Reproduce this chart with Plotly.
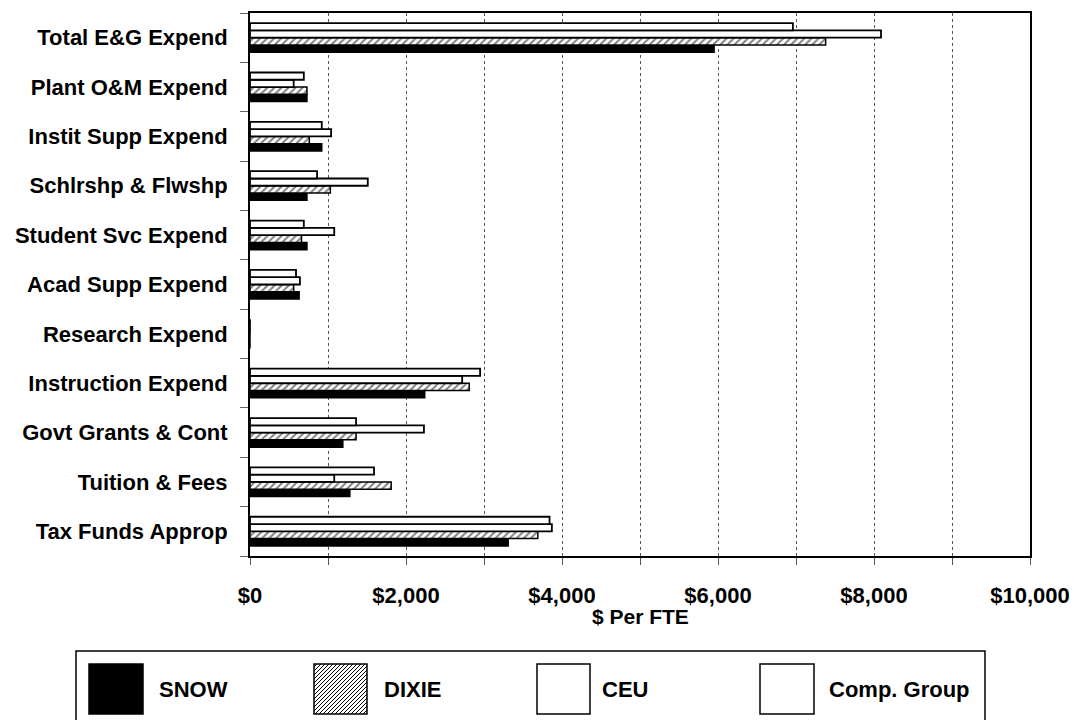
import plotly.graph_objects as go

categories = ["Total E&G Expend", "Plant O&M Expend", "Instit Supp Expend", "Schlrshp & Flwshp",
              "Student Svc Expend", "Acad Supp Expend", "Research Expend", "Instruction Expend",
              "Govt Grants & Cont", "Tuition & Fees", "Tax Funds Approp"]
snow = [5950, 730, 920, 730, 730, 630, 0, 2240, 1190, 1280, 3310]
dixie = [7380, 730, 760, 1030, 660, 560, 0, 2810, 1360, 1810, 3690]
ceu = [8090, 560, 1040, 1510, 1080, 640, 0, 2720, 2230, 1080, 3870]
comp = [6960, 690, 920, 860, 690, 590, 0, 2950, 1360, 1590, 3840]
series_names = ["SNOW", "DIXIE", "CEU", "Comp. Group"]
x_tick_values = [0, 1000, 2000, 3000, 4000, 5000, 6000, 7000, 8000, 9000, 10000]
x_tick_labels = ["$0", "", "$2,000", "", "$4,000", "", "$6,000", "", "$8,000", "", "$10,000"]
x_title = "$ Per FTE"

FONT = "Arial, Liberation Sans, sans-serif"
W, H = 1074, 720
# plot area in page pixels
L, R, T, B = 250, 1030, 13, 556

fig = go.Figure()
styles = [
    dict(color="black", line=dict(color="black", width=1.5)),
    dict(color="white", line=dict(color="black", width=1.5),
         pattern=dict(shape="/", fgcolor="black", bgcolor="white", size=5, solidity=0.4)),
    dict(color="white", line=dict(color="black", width=1.8)),
    dict(color="white", line=dict(color="black", width=1.8)),
]
for name, vals, st in zip(series_names, [snow, dixie, ceu, comp], styles):
    fig.add_trace(go.Bar(y=categories, x=vals, name=name, orientation="h",
                         marker=st, showlegend=False, hoverinfo="skip"))


def px_x(px):
    return (px - L) / (R - L)


def px_y(py):
    return (B - py) / (B - T)


shapes = []
# legend box
shapes.append(dict(type="rect", xref="paper", yref="paper",
                   x0=px_x(76), x1=px_x(985), y0=px_y(651), y1=px_y(730),
                   line=dict(color="black", width=1.5), fillcolor="rgba(0,0,0,0)"))
swatches = [(89, 143, "black"), (314, 367, "white"), (537, 590, "white"), (760, 814, "white")]
for (a, b, col) in swatches:
    shapes.append(dict(type="rect", xref="paper", yref="paper",
                       x0=px_x(a), x1=px_x(b), y0=px_y(664), y1=px_y(714),
                       line=dict(color="black", width=1.5), fillcolor=col))
# hatch in DIXIE swatch
x0, x1, y0, y1 = 314, 367, 664, 714
k = x0 + y0 + 3
while k < x1 + y1:
    xa = max(x0, k - y1)
    xb = min(x1, k - y0)
    if xb > xa:
        shapes.append(dict(type="line", xref="paper", yref="paper",
                           x0=px_x(xa), y0=px_y(k - xa), x1=px_x(xb), y1=px_y(k - xb),
                           line=dict(color="black", width=1)))
    k += 4

annotations = []
text_x = [157, 382, 600, 827]
for name, tx in zip(series_names, text_x):
    annotations.append(dict(text=name, xref="paper", yref="paper", x=px_x(tx), y=px_y(689),
                            xanchor="left", yanchor="middle", showarrow=False,
                            font=dict(family=FONT, size=22, color="black", weight="bold")))
# x-axis title
annotations.append(dict(text=x_title, xref="paper", yref="paper", x=0.5, y=px_y(616),
                        xanchor="center", yanchor="middle", showarrow=False,
                        font=dict(family=FONT, size=21, color="black", weight="bold")))

fig.update_layout(
    width=W, height=H, autosize=False,
    margin=dict(l=L, r=W - R, t=T, b=H - B, pad=0),
    paper_bgcolor="white", plot_bgcolor="white",
    barmode="group", bargap=0.41, bargroupgap=0,
    font=dict(family=FONT, size=22, color="black", weight="bold"),
    shapes=shapes, annotations=annotations,
    showlegend=False,
)
fig.update_xaxes(range=[0, 10000], tickvals=x_tick_values, ticktext=x_tick_labels,
                 automargin=False,
                 ticks="outside", ticklen=7, tickcolor="#555", tickwidth=1,
                 showgrid=True, gridcolor="#555", griddash="dot", gridwidth=1,
                 showline=True, linecolor="black", linewidth=2, mirror=True, zeroline=False,
                 tickfont=dict(size=22, weight="bold"), ticklabelstandoff=12)
fig.update_yaxes(type="category", categoryorder="array", categoryarray=categories[::-1],
                 automargin=False,
                 ticks="outside", tickson="boundaries", ticklen=8, tickcolor="#666",
                 showline=True, linecolor="black", linewidth=2, mirror=True, showgrid=False,
                 tickfont=dict(size=22, weight="bold"), ticklabelstandoff=16)

fig.write_html("out.html", config={"displayModeBar": False},
               post_script="document.body.style.margin='0';document.body.style.overflow='hidden';")
